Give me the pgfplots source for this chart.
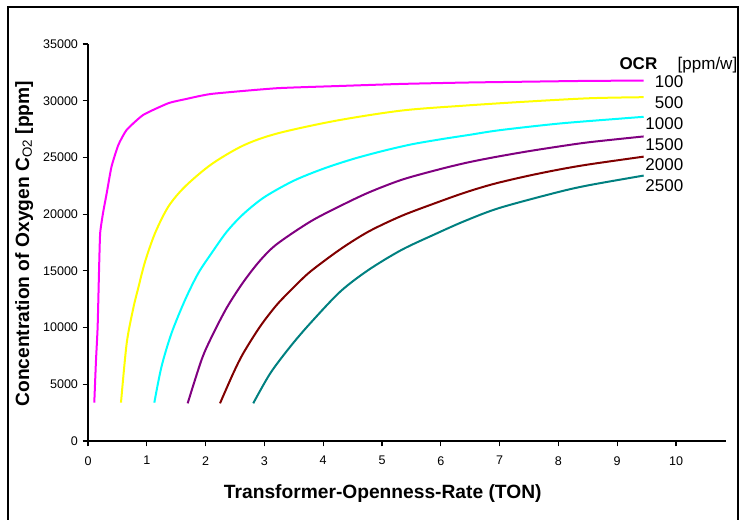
\documentclass[border=0pt]{standalone}
\usepackage{pgfplots}
\pgfplotsset{compat=1.18}
\usepackage{fontspec}
\setmainfont{Liberation Sans}
\definecolor{cMag}{RGB}{255,0,255}
\definecolor{cYel}{RGB}{255,255,0}
\definecolor{cCya}{RGB}{0,255,255}
\definecolor{cPur}{RGB}{128,0,128}
\definecolor{cRed}{RGB}{128,0,0}
\definecolor{cTea}{RGB}{0,128,128}
\begin{document}
\begin{tikzpicture}[x=0.75pt,y=0.75pt]
\useasboundingbox (0,0) rectangle (746,520);
\draw[line width=1.1pt] (8,-10) -- (8,513) -- (738,513) -- (738,-10);
\begin{axis}[
  at={(66pt,59.25pt)}, anchor=south west,
  scale only axis, width=478.5pt, height=297.75pt,
  xmin=0, xmax=10.85, ymin=0, ymax=35000,
  axis lines*=left,
  axis line style={line width=0.8pt},
  tick style={line width=0.8pt, black},
  tick align=outside,
  major tick length=4pt,
  xtick={0,1,...,10},
  ytick={0,5000,...,35000},
  scaled y ticks=false,
  /pgf/number format/assume math mode=true,
  /pgf/number format/1000 sep={},
  ticklabel style={font=\fontsize{9.4}{11}\selectfont},
  xticklabel style={yshift=-4pt},
  xlabel={Transformer-Openness-Rate (TON)},
  ylabel={Concentration of Oxygen C\textsubscript{\mdseries O2} [ppm]},
  xlabel style={font=\fontsize{14.4}{17}\selectfont\bfseries, at={(axis description cs:0.462,-0.133)}, anchor=center},
  ylabel style={font=\fontsize{14.4}{17}\selectfont\bfseries, at={(axis description cs:-0.100,0.497)}, anchor=center},
  every axis plot/.append style={line width=1.5pt, smooth, tension=0.5, no markers},
  clip=false,
]
\addplot[cMag, tension=0.3] coordinates {(0.107,3380) (0.135,7000) (0.164,10080) (0.190,15500) (0.207,18340) (0.255,20080) (0.318,21840) (0.40,24190) (0.516,26100) (0.658,27430) (0.94,28750) (1.366,29780) (1.65,30130) (2.1,30600) (3.21,31100) (4.29,31300) (5.33,31480) (6.41,31600) (7.5,31680) (8.54,31750) (9.45,31770)};
\addplot[cYel] coordinates {(0.561,3380) (0.658,8610) (0.77,11700) (0.855,13500) (0.97,15800) (1.14,18320) (1.366,20660) (1.65,22430) (2.1,24400) (2.64,26050) (3.21,27100) (4.2,28220) (5.33,29130) (6.41,29570) (7.46,29920) (8.54,30220) (9.45,30310)};
\addplot[cCya] coordinates {(1.128,3380) (1.25,6550) (1.42,9500) (1.65,12430) (1.875,14790) (2.1,16550) (2.36,18450) (2.64,20000) (3.0,21500) (3.5,22950) (4.0,24000) (4.5,24850) (5.0,25550) (5.5,26150) (6.0,26600) (6.5,27000) (7.0,27400) (8.0,27980) (9.0,28400) (9.45,28580)};
\addplot[cPur] coordinates {(1.695,3320) (1.93,7140) (2.1,9150) (2.36,11750) (2.64,14000) (2.925,15900) (3.21,17350) (3.78,19340) (4.29,20720) (4.77,21900) (5.33,23020) (5.9,23850) (6.41,24500) (6.89,25000) (7.46,25520) (8.03,25980) (8.54,26350) (9.45,26850)};
\addplot[cRed] coordinates {(2.245,3320) (2.47,5970) (2.64,7730) (2.925,10080) (3.21,12000) (3.49,13500) (3.78,14930) (4.29,16900) (4.77,18460) (5.33,19840) (5.9,20960) (6.41,21900) (6.89,22650) (7.46,23350) (8.03,23950) (8.54,24400) (9.45,25070)};
\addplot[cTea] coordinates {(2.81,3320) (3.1,5970) (3.44,8320) (3.78,10380) (4.29,13170) (4.77,15080) (5.33,16840) (5.9,18230) (6.41,19400) (7.0,20550) (8.0,21950) (8.54,22570) (9.45,23400)};
\end{axis}
\begin{scope}[font=\fontsize{12.75}{15}\selectfont]
\node[anchor=base east] at (662,450) {\bfseries OCR};
\node[anchor=base west] at (673,450) {[ppm/w]};
\node[anchor=east] at (688,438) {100};
\node[anchor=east] at (688,417.7) {500};
\node[anchor=east] at (688,396.4) {1000};
\node[anchor=east] at (688,375.5) {1500};
\node[anchor=east] at (688,355) {2000};
\node[anchor=east] at (688,334) {2500};
\end{scope}
\end{tikzpicture}
\end{document}
